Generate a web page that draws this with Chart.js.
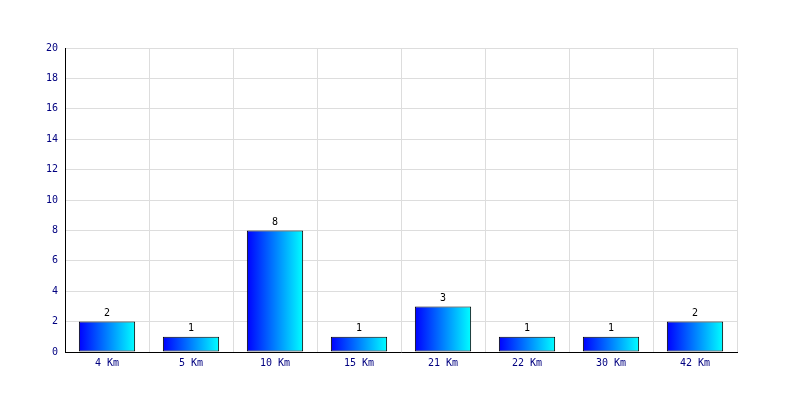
<!DOCTYPE html>
<html>
<head>
<meta charset="utf-8">
<script src="https://cdn.jsdelivr.net/npm/chart.js@4"></script>
<style>
  html, body { margin: 0; padding: 0; background: #fff; }
  #wrap { width: 800px; height: 400px; }
</style>
</head>
<body>
<div id="wrap"><canvas id="distChart" width="800" height="400"></canvas></div>
<script>
const categories = ['4 Km', '5 Km', '10 Km', '15 Km', '21 Km', '22 Km', '30 Km', '42 Km'];
const counts = [2, 1, 8, 1, 3, 1, 1, 2];
const yTicks = [0, 2, 4, 6, 8, 10, 12, 14, 16, 18, 20];

const monoFont = { family: 'DejaVu Sans Mono', size: 10 };
const barPct = 0.67;

// horizontal blue -> cyan gradient for each bar
function barGradient(ctx) {
  const chart = ctx.chart;
  const x = chart.scales.x;
  if (!x || ctx.dataIndex === undefined) return '#0000ff';
  const step = x.getPixelForValue(1) - x.getPixelForValue(0);
  const c = x.getPixelForValue(ctx.dataIndex);
  if (!isFinite(step) || !isFinite(c) || step <= 0) return '#0000ff';
  const w = step * barPct;
  const g = chart.ctx.createLinearGradient(c - w / 2, 0, c + w / 2, 0);
  g.addColorStop(0, '#0000ff');
  g.addColorStop(1, '#00ffff');
  return g;
}

const valueLabels = {
  id: 'valueLabels',
  afterDatasetsDraw(chart) {
    const c = chart.ctx;
    const meta = chart.getDatasetMeta(0);
    c.save();
    c.font = '10px "DejaVu Sans Mono"';
    c.fillStyle = '#000';
    c.textAlign = 'center';
    c.textBaseline = 'bottom';
    meta.data.forEach((bar, i) => {
      c.fillText(String(counts[i]), bar.x, bar.y - 3);
    });
    c.restore();
  }
};

new Chart(document.getElementById('distChart').getContext('2d'), {
  type: 'bar',
  data: {
    labels: categories,
    datasets: [{
      data: counts,
      backgroundColor: barGradient,
      borderColor: '#000',
      borderWidth: 1,
      borderSkipped: false,
      categoryPercentage: 1,
      barPercentage: barPct
    }]
  },
  options: {
    responsive: false,
    animation: false,
    layout: { padding: { top: 48, right: 63, left: 0, bottom: 0 } },
    plugins: {
      legend: { display: false },
      tooltip: { enabled: false }
    },
    scales: {
      x: {
        grid: { color: '#dddddd', drawTicks: false, offset: true },
        border: { color: '#000', width: 1 },
        ticks: { color: '#000080', font: monoFont, padding: 5 },
        afterFit: s => { s.height = 48; }
      },
      y: {
        min: 0,
        max: 20,
        afterBuildTicks: s => { s.ticks = yTicks.map(v => ({ value: v })); },
        grid: { color: '#dddddd', drawTicks: false },
        border: { color: '#000', width: 1 },
        ticks: { color: '#000080', font: monoFont, padding: 7 },
        afterFit: s => { s.width = 65; }
      }
    }
  },
  plugins: [valueLabels]
});
</script>
</body>
</html>
